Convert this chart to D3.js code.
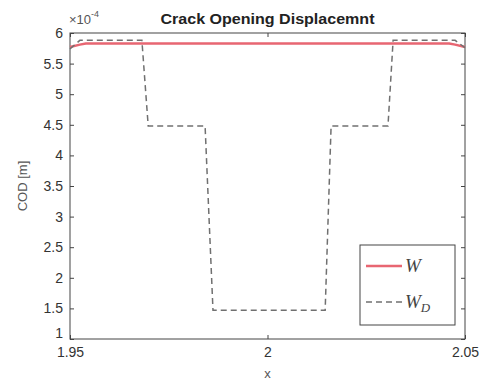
<!DOCTYPE html>
<html>
<head>
<meta charset="utf-8">
<script src="https://cdn.jsdelivr.net/npm/d3@7"></script>
<style>
  body { margin: 0; background: #fff; }
  text { font-family: "Liberation Sans", Arial, sans-serif; fill: #333; }
</style>
</head>
<body>
<svg id="chart" width="483" height="381"></svg>
<script>
// values (COD in units of 1e-4 m)
const xTicks = [1.95, 2, 2.05];
const yTicks = [1, 1.5, 2, 2.5, 3, 3.5, 4, 4.5, 5, 5.5, 6];

const wX = [1.95, 1.9525, 1.954, 2.046, 2.0475, 2.05];
const wY = [5.77, 5.81, 5.83, 5.83, 5.81, 5.77];

const wdX = [1.95, 1.9525, 1.9682, 1.9698, 1.9842, 1.9862, 2.0146, 2.0161, 2.0305, 2.0318, 2.0475, 2.05];
const wdY = [5.74, 5.88, 5.88, 4.48, 4.48, 1.47, 1.47, 4.48, 4.48, 5.88, 5.88, 5.76];

const margin = { left: 70, right: 18, top: 33, bottom: 42 };
const width = 483, height = 381;

const svg = d3.select('#chart');

const x = d3.scaleLinear().domain([1.95, 2.05]).range([margin.left, width - margin.right]);
const y = d3.scaleLinear().domain([1, 6]).range([height - margin.bottom, margin.top]);

const plot = svg.append('g');

// frame
plot.append('rect')
  .attr('x', x(1.95)).attr('y', y(6))
  .attr('width', x(2.05) - x(1.95)).attr('height', y(1) - y(6))
  .attr('fill', '#fff').attr('stroke', '#444').attr('stroke-width', 1);

// axes, ticks pointing inward
function styleAxis(g) {
  g.select('.domain').remove();
  g.selectAll('.tick line').attr('stroke', '#444');
  g.selectAll('.tick text').attr('font-size', 14).attr('fill', '#555');
}

plot.append('g')
  .attr('transform', `translate(0,${y(1)})`)
  .call(d3.axisBottom(x).tickValues(xTicks).tickSize(-4).tickPadding(8).tickFormat(d3.format('')))
  .call(styleAxis);

plot.append('g')
  .attr('transform', `translate(0,${y(6)})`)
  .call(d3.axisTop(x).tickValues(xTicks).tickSize(-4).tickFormat(''))
  .call(styleAxis);

plot.append('g')
  .attr('transform', `translate(${x(1.95)},0)`)
  .call(d3.axisLeft(y).tickValues(yTicks).tickSize(-4).tickPadding(7).tickFormat(d3.format('')))
  .call(styleAxis)
  .call(g => g.selectAll('.tick').filter(d => d === 1).select('text').attr('dy', '-0.1em'));

plot.append('g')
  .attr('transform', `translate(${x(2.05)},0)`)
  .call(d3.axisRight(y).tickValues(yTicks).tickSize(-4).tickFormat(''))
  .call(styleAxis);

const line = d3.line().x(d => x(d[0])).y(d => y(d[1]));

// W (solid red)
plot.append('path')
  .datum(d3.zip(wX, wY))
  .attr('d', line)
  .attr('fill', 'none')
  .attr('stroke', '#e86672')
  .attr('stroke-width', 2.5);

// W_D (dashed grey)
plot.append('path')
  .datum(d3.zip(wdX, wdY))
  .attr('d', line)
  .attr('fill', 'none')
  .attr('stroke', '#707070')
  .attr('stroke-width', 1.5)
  .attr('stroke-dasharray', '6,4');

// title, exponent, axis labels
svg.append('text')
  .attr('x', x(2)).attr('y', 24)
  .attr('text-anchor', 'middle')
  .attr('font-size', 14).attr('font-weight', 'bold')
  .attr('textLength', 214).attr('lengthAdjust', 'spacingAndGlyphs')
  .style('fill', '#222')
  .text('Crack Opening Displacemnt');

const expo = svg.append('text')
  .attr('x', 69).attr('y', 24)
  .attr('font-size', 13)
  .style('fill', '#555');
expo.append('tspan').text('\u00d710');
expo.append('tspan').attr('dy', -7).attr('font-size', 9).text('-4');

svg.append('text')
  .attr('transform', `translate(27,${(y(1) + y(6)) / 2}) rotate(-90)`)
  .attr('text-anchor', 'middle')
  .attr('font-size', 13)
  .style('fill', '#555')
  .text('COD [m]');

svg.append('text')
  .attr('x', x(2)).attr('y', 378)
  .attr('text-anchor', 'middle')
  .attr('font-size', 13)
  .style('fill', '#555')
  .text('x');

// legend
const legend = svg.append('g').attr('transform', 'translate(360,245)');
legend.append('rect')
  .attr('width', 95).attr('height', 80)
  .attr('fill', '#fff').attr('stroke', '#444').attr('stroke-width', 1);

const entries = [
  { label: 'W', sub: '', stroke: '#e86672', width: 2.5, dash: null },
  { label: 'W', sub: 'D', stroke: '#707070', width: 1.5, dash: '6,4' }
];

entries.forEach((e, i) => {
  const cy = 21 + i * 36;
  legend.append('line')
    .attr('x1', 6).attr('x2', 42).attr('y1', cy).attr('y2', cy)
    .attr('stroke', e.stroke).attr('stroke-width', e.width)
    .attr('stroke-dasharray', e.dash);
  const t = legend.append('text')
    .attr('x', 45).attr('y', cy + 6)
    .attr('font-size', 19)
    .style('font-family', '"Liberation Serif", "Times New Roman", serif')
    .style('font-style', 'italic')
    .style('fill', '#444');
  t.append('tspan').text(e.label);
  if (e.sub) t.append('tspan').attr('dy', 4).attr('font-size', 13).text(e.sub);
});
</script>
</body>
</html>
